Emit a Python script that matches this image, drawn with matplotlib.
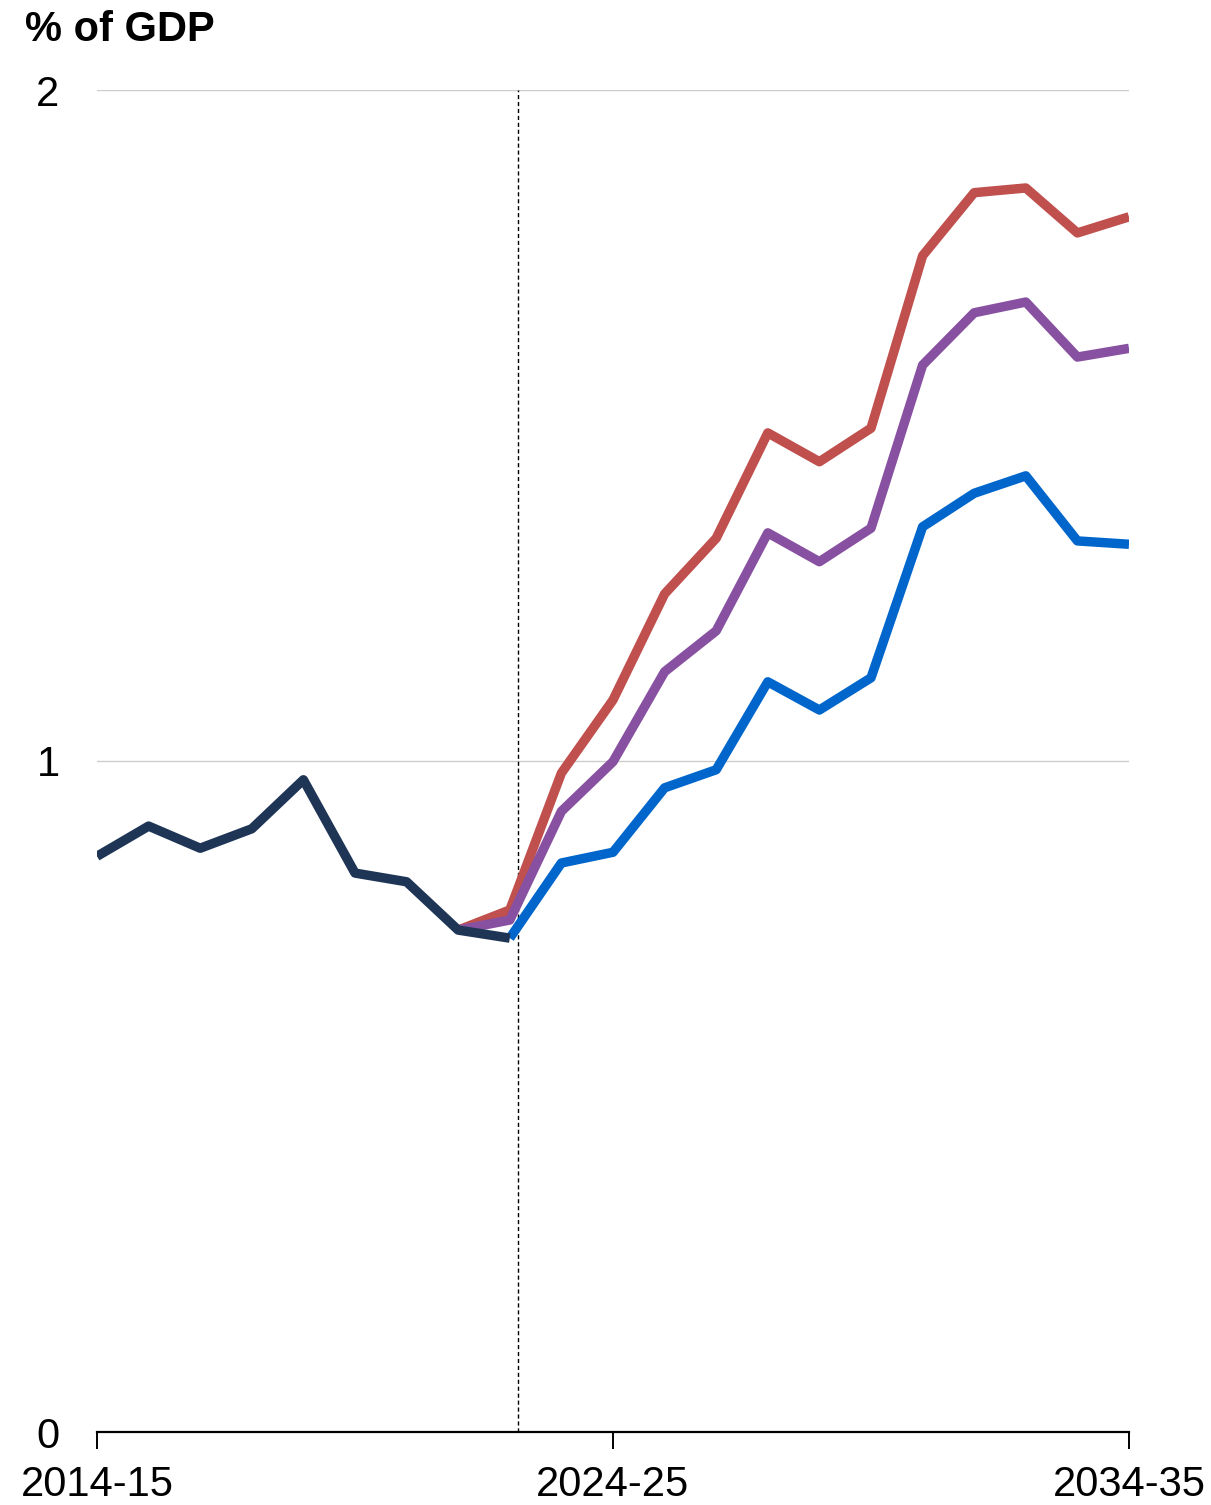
import numpy as np
import matplotlib.pyplot as plt

plt.rcParams['font.family'] = ['Liberation Sans', 'DejaVu Sans']

# Financial years, 2014-15 .. 2034-35
years = [f"{y}-{str(y + 1)[-2:]}" for y in range(2014, 2035)]

# Outturn (% of GDP)
history = [0.858, 0.903, 0.870, 0.899, 0.972, 0.833, 0.820, 0.748, 0.736]

# Projections start at 2021-22 (red, purple) and 2022-23 (blue)
red = [0.748, 0.778, 0.982, 1.091, 1.249, 1.332, 1.489, 1.446, 1.496,
       1.753, 1.847, 1.854, 1.787, 1.811]
purple = [0.748, 0.763, 0.925, 0.999, 1.133, 1.194, 1.340, 1.297, 1.347,
          1.590, 1.668, 1.684, 1.602, 1.615]
blue = [0.736, 0.848, 0.864, 0.960, 0.987, 1.118, 1.076, 1.124,
        1.349, 1.399, 1.425, 1.328, 1.323]

x_hist = np.arange(len(history))
x_red = np.arange(7, 7 + len(red))
x_blue = np.arange(8, 8 + len(blue))

fig = plt.figure(figsize=(12.11, 15.05), dpi=100)
ax = fig.add_axes([97 / 1211, 1 - 1432 / 1505, (1129 - 97) / 1211, (1432 - 90) / 1505])

lw = 6.8
style = dict(linewidth=lw, solid_joinstyle='round', solid_capstyle='butt')
ax.plot(x_red, red, color='#C0504D', zorder=3, **style)
ax.plot(x_red, purple, color='#8750A0', zorder=4, **style)
ax.plot(x_blue, blue, color='#0066CC', zorder=5, **style)
ax.plot(x_hist, history, color='#1F3556', zorder=6, **style)

ax.axvline(8.15, color='black', linestyle=(0, (3, 2)), linewidth=1.0, zorder=2)

ax.set_xlim(0, 20)
ax.set_ylim(0, 2)
ax.set_yticks([0, 1, 2])
ax.set_yticklabels(['0', '1', '2'])
ax.set_xticks([0, 10, 20])
ax.set_xticklabels([years[0], years[10], years[20]])

for y in [1, 2]:
    ax.axhline(y, color='#CCCCCC', linewidth=1.0, zorder=1)

for s in ['top', 'right', 'left']:
    ax.spines[s].set_visible(False)
ax.spines['bottom'].set_linewidth(1.6)
ax.spines['bottom'].set_zorder(7)

ax.tick_params(axis='y', length=0, pad=27, labelsize=30)
ax.tick_params(axis='x', length=12, width=1.4, direction='out', pad=12, labelsize=30)

fig.text(25 / 1211, 1 - 30 / 1505, '% of GDP', fontsize=30, fontweight='bold',
         va='center', ha='left')

fig.savefig('out.png', dpi=100)
